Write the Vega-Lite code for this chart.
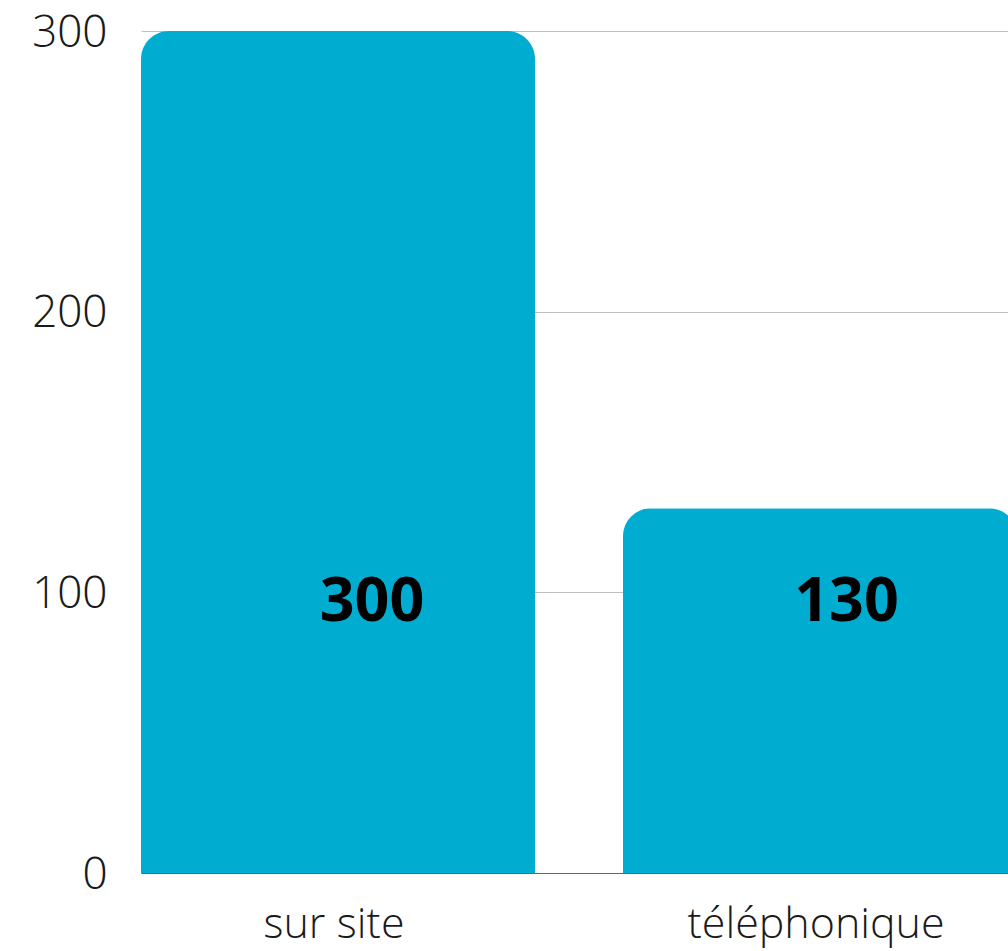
{
  "$schema": "https://vega.github.io/schema/vega-lite/v6.json",
  "width": 867,
  "height": 842,
  "autosize": {"type": "none"},
  "padding": {"left": 141, "top": 31, "right": 0, "bottom": 78},
  "background": "white",
  "config": {
    "view": {"stroke": null},
    "font": "Open Sans"
  },
  "data": {
    "values": [
      {"mode": "sur site", "count": 300},
      {"mode": "téléphonique", "count": 130}
    ]
  },
  "layer": [
    {
      "mark": {
        "type": "bar",
        "color": "#00ADD1",
        "cornerRadiusTopLeft": 28,
        "cornerRadiusTopRight": 28
      },
      "encoding": {
        "x": {
          "field": "mode",
          "type": "nominal",
          "sort": null,
          "scale": {"range": [0, 876], "paddingInner": 0.1826, "paddingOuter": 0},
          "axis": {
            "title": null,
            "labelAngle": 0,
            "labelFont": "Open Sans Light, Open Sans",
            "labelFontWeight": 300,
            "labelFontSize": 43,
            "labelColor": "#1a1a1a",
            "labelPadding": 30,
            "labelLimit": 0,
            "labelOffset": -4,
            "ticks": false,
            "domainColor": "#666666",
            "domainWidth": 1,
            "grid": false
          }
        },
        "y": {
          "field": "count",
          "type": "quantitative",
          "scale": {"domain": [0, 300], "nice": false},
          "axis": {
            "title": null,
            "values": [0, 100, 200, 300],
            "labelFont": "Open Sans Light, Open Sans",
            "labelFontWeight": 300,
            "labelFontSize": 44,
            "labelColor": "#1a1a1a",
            "labelPadding": 34,
            "labelOffset": 2,
            "ticks": false,
            "domain": false,
            "gridColor": "#C0C0C0",
            "gridWidth": 1
          }
        }
      }
    },
    {
      "mark": {
        "type": "text",
        "font": "Open Sans",
        "fontWeight": "bold",
        "fontSize": 61,
        "color": "#000000",
        "align": "center",
        "baseline": "middle"
      },
      "encoding": {
        "x": {
          "field": "mode",
          "type": "nominal",
          "sort": null,
          "scale": {"type": "point", "range": [231, 705.5], "padding": 0},
          "axis": null
        },
        "y": {"datum": 96.3, "type": "quantitative"},
        "text": {"field": "count", "type": "quantitative"}
      }
    }
  ],
  "resolve": {"scale": {"x": "independent"}}
}
